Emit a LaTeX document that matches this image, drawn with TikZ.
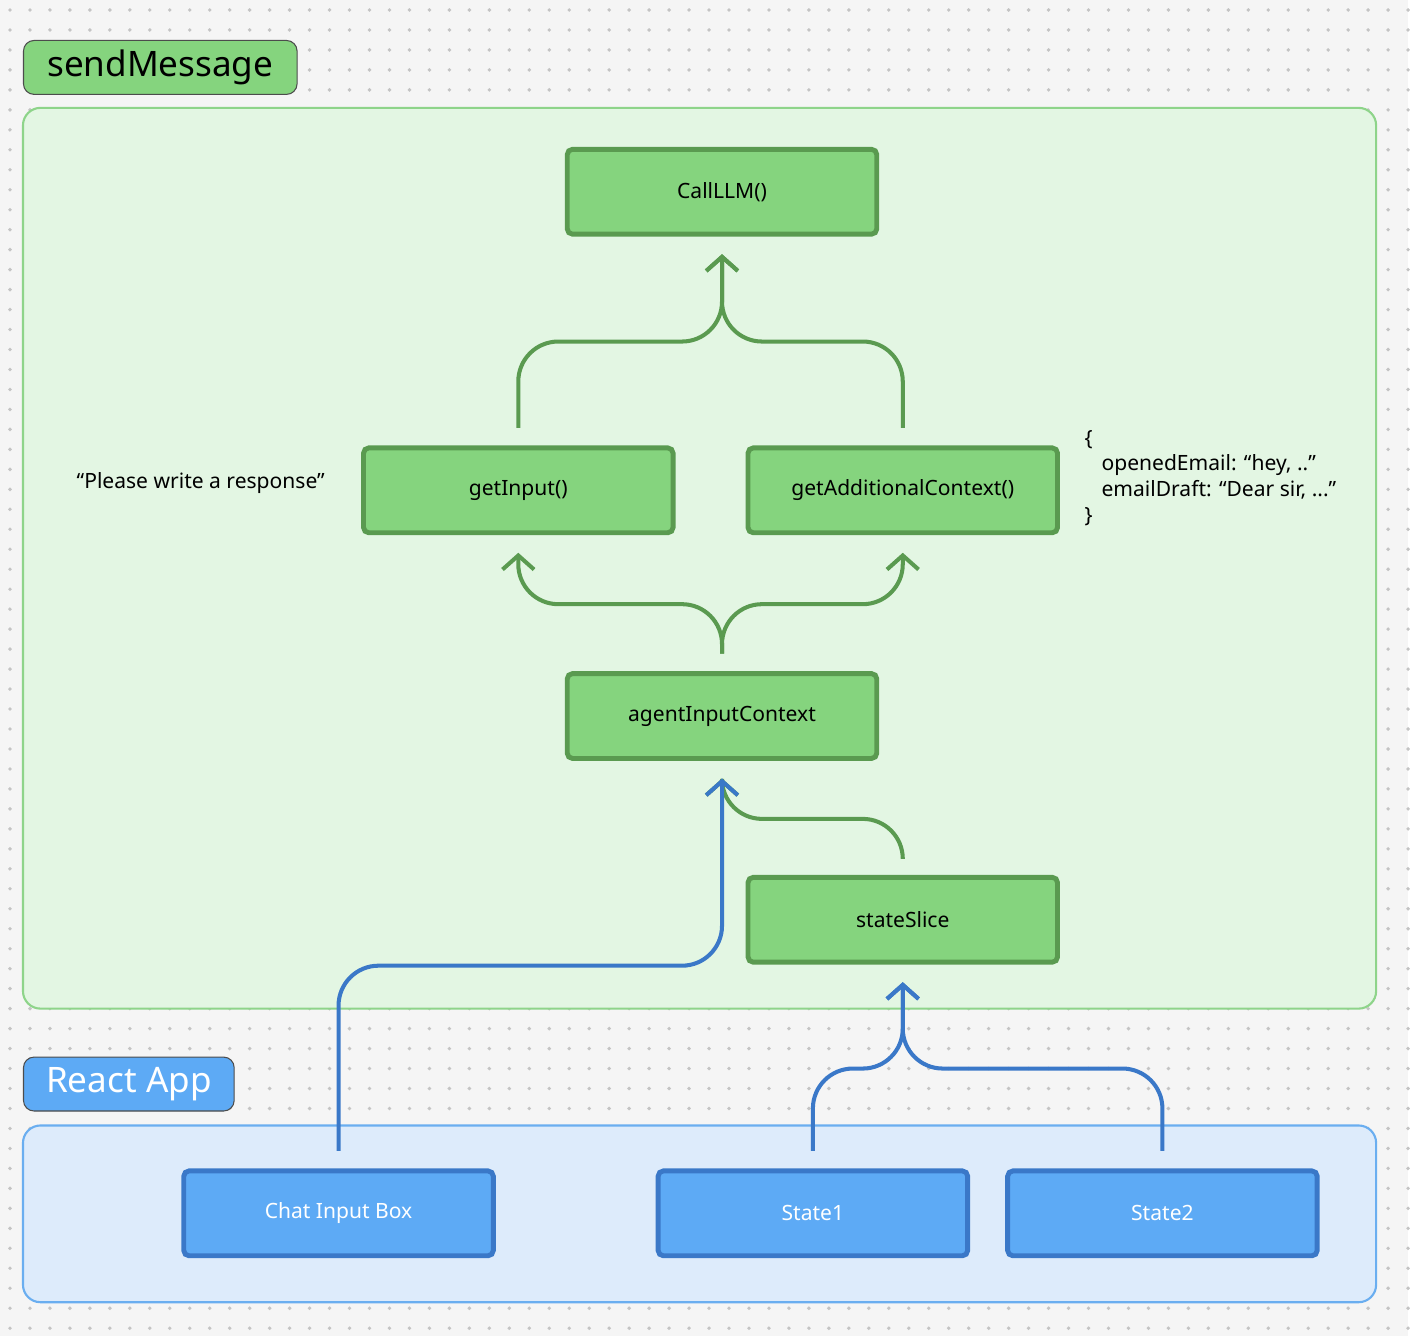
\documentclass[tikz,border=0pt]{standalone}
\usepackage{fontspec}
\setmainfont{Noto Sans}
\usetikzlibrary{arrows.meta}
\definecolor{bgpaper}{HTML}{F5F5F5}
\definecolor{griddot}{HTML}{C4C4C4}
\definecolor{greenzone}{HTML}{E3F6E3}
\definecolor{greenedge}{HTML}{8ED48A}
\definecolor{greenfill}{HTML}{85D47E}
\definecolor{greendark}{HTML}{5A9A50}
\definecolor{bluezone}{HTML}{DDEBFB}
\definecolor{blueedge}{HTML}{6AAEF0}
\definecolor{bluefill}{HTML}{5DAAF5}
\definecolor{bluedark}{HTML}{3A78C8}
\tikzset{
  zone/.style={rounded corners=10pt, line width=1.2pt},
  tag/.style={rectangle, rounded corners=6pt, draw=black!70, line width=0.6pt,
    minimum width=#1, minimum height=1.08cm, anchor=north west, font=\fontsize{20}{24}\selectfont\bfseries},
  gfunc/.style={rectangle, rounded corners=3pt, fill=greenfill, draw=greendark,
    line width=2.8pt, minimum width=6.2cm, minimum height=1.7cm, font=\fontsize{12}{14}\selectfont},
  bfunc/.style={gfunc, fill=bluefill, draw=bluedark, text=white},
  gflow/.style={draw=greendark, line width=2.3pt, rounded corners=0.8cm,
    -{Straight Barb[length=8pt, width=18pt, line width=2.3pt]}, shorten >=10pt, shorten <=10pt},
  bflow/.style={gflow, draw=bluedark},
  note/.style={font=\fontsize{12}{15}\selectfont, align=left}
}
\begin{document}
\begin{tikzpicture}[x=0.02cm, y=-0.02cm]
\fill[bgpaper] (0,0) rectangle (1410,1338);
\foreach \gx in {10,30,...,1410}
  \foreach \gy in {10,30,...,1338}
    \fill[griddot] (\gx,\gy) circle (1.1pt);

% zones
\draw[zone, fill=greenzone, draw=greenedge] (23,108) rectangle (1378,1010);
\draw[zone, fill=bluezone, draw=blueedge] (23,1127) rectangle (1378,1304);
\node[tag=5.48cm, fill=greenfill] (sendtag) at (23,40) {sendMessage};
\node[tag=4.22cm, fill=bluefill, text=white, font=\fontsize{20}{24}\selectfont] (reacttag) at (23,1058) {React App};

% functions
\node[gfunc] (callllm) at (723,192) {CallLLM()};
\node[gfunc] (getinput) at (519,491) {getInput()};
\node[gfunc] (getctx) at (904,491) {getAdditionalContext()};
\node[gfunc] (agentctx) at (723,717) {agentInputContext};
\node[gfunc] (slice) at (904,921) {stateSlice};
\node[bfunc] (chatbox) at (339,1215) {Chat Input Box};
\node[bfunc] (stateone) at (814,1215) {State1};
\node[bfunc] (statetwo) at (1164,1215) {State2};

% notes
\node[note] (prompt) at (201,484) {“Please write a response”};
\node[note, anchor=north west] (ctxnote) at (1080,425) {\{\\[-1pt]
  \hspace*{0.8em}openedEmail: “hey, ..”\\
  \hspace*{0.8em}emailDraft: “Dear sir, ...”\\
  \}};

% flows
\draw[gflow] (getinput.north) |- (723,342) -- (callllm.south);
\draw[gflow] (getctx.north) |- (723,342) -- (callllm.south);
\draw[gflow] (agentctx.north) |- (519,605) -- (getinput.south);
\draw[gflow] (agentctx.north) |- (904,605) -- (getctx.south);
\draw[gflow] (slice.north) |- (723,820) -- (agentctx.south);
\draw[bflow] (chatbox.north) |- (723,967) -- (agentctx.south);
\draw[bflow] (stateone.north) |- (904,1070) -- (slice.south);
\draw[bflow] (statetwo.north) |- (904,1070) -- (slice.south);
\end{tikzpicture}
\end{document}
